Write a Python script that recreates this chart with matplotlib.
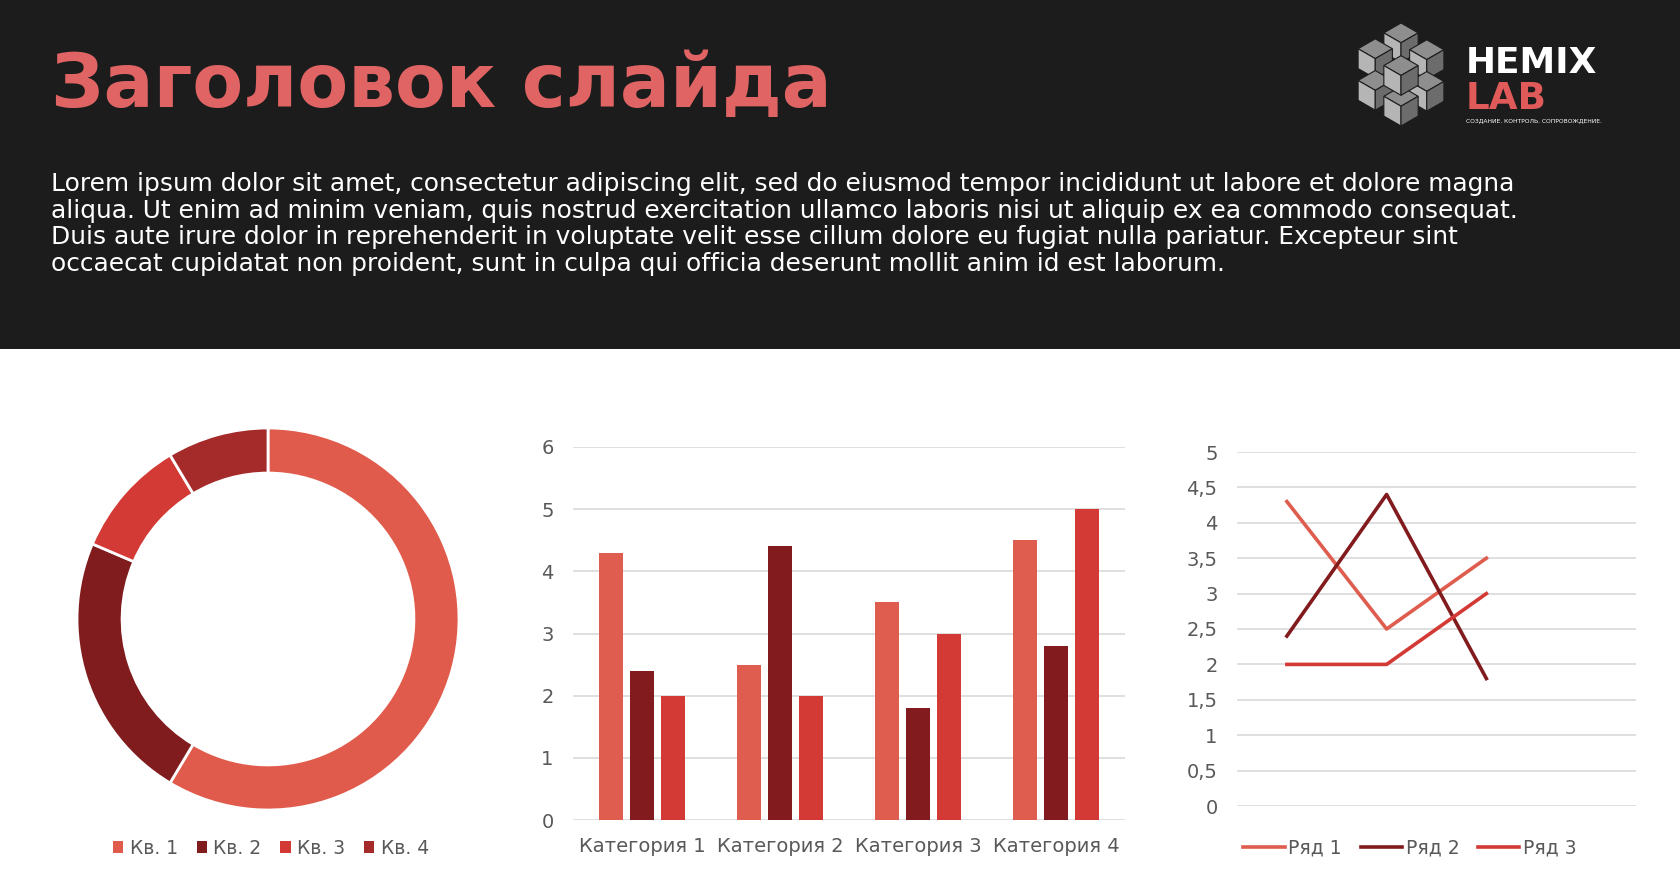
import matplotlib.pyplot as plt
from matplotlib.patches import Rectangle, Polygon
from matplotlib.lines import Line2D

W, H = 1680, 886

# data
title = "Заголовок слайда"
body_lines = [
    "Lorem ipsum dolor sit amet, consectetur adipiscing elit, sed do eiusmod tempor incididunt ut labore et dolore magna",
    "aliqua. Ut enim ad minim veniam, quis nostrud exercitation ullamco laboris nisi ut aliquip ex ea commodo consequat.",
    "Duis aute irure dolor in reprehenderit in voluptate velit esse cillum dolore eu fugiat nulla pariatur. Excepteur sint",
    "occaecat cupidatat non proident, sunt in culpa qui officia deserunt mollit anim id est laborum.",
]

quarters = ["Кв. 1", "Кв. 2", "Кв. 3", "Кв. 4"]
sales = [8.2, 3.2, 1.4, 1.2]

categories = ["Категория 1", "Категория 2", "Категория 3", "Категория 4"]
series_names = ["Ряд 1", "Ряд 2", "Ряд 3"]
series_1 = [4.3, 2.5, 3.5, 4.5]
series_2 = [2.4, 4.4, 1.8, 2.8]
series_3 = [2.0, 2.0, 3.0, 5.0]

line_x = [0, 1, 2]
line_1 = [4.3, 2.5, 3.5]
line_2 = [2.4, 4.4, 1.8]
line_3 = [2.0, 2.0, 3.0]

pie_colors = ["#E05B4B", "#811C1E", "#D43A35", "#A52B2B"]
bar_colors = ["#DE5D4E", "#821B1D", "#D33A35"]
header_bg = "#1C1C1C"
title_color = "#E06464"
tick_color = "#595959"
grid_color = "#D9D9D9"
font = "DejaVu Sans"


def box(x0, y0, x1, y1):
    # pixel box (top-left origin) -> figure fraction
    return [x0 / W, 1 - y1 / H, (x1 - x0) / W, (y1 - y0) / H]


fig = plt.figure(figsize=(W / 100, H / 100), dpi=100)
fig.patch.set_facecolor("white")

# dark header
fig.patches.append(Rectangle((0, 1 - 349 / H), 1, 349 / H, transform=fig.transFigure,
                             facecolor=header_bg, edgecolor="none", zorder=-5))

renderer = fig.canvas.get_renderer()


def fit_text(x, y, s, width, size, **kw):
    t = fig.text(x / W, 1 - y / H, s, fontsize=size, va="baseline", family=font, **kw)
    w = t.get_window_extent(renderer).width
    t.set_fontsize(size * width / w)
    return t


fit_text(51, 107, title, 783, 50, color=title_color, fontweight="bold")

body = fit_text(51, 191, body_lines[0], 1470, 16, color="white")
bsize = body.get_fontsize()
for i, line in enumerate(body_lines[1:], start=1):
    fig.text(51 / W, 1 - (191 + 26.5 * i) / H, line, fontsize=bsize, va="baseline",
             family=font, color="white")

# logo cubes
lax = fig.add_axes(box(1353, 22, 1449, 127))
lax.set_xlim(-2.25, 2.25)
lax.set_ylim(-2.6, 2.7)
lax.set_aspect("equal")
lax.axis("off")
a = 0.866
cubes = [(0, 1.65), (-1.3, 0.85), (1.3, 0.8), (-1.3, -0.75), (1.3, -0.8), (0, -1.55), (0, 0)]
for cx, cy in cubes:
    top = [(cx, cy), (cx + a, cy + 0.5), (cx, cy + 1), (cx - a, cy + 0.5)]
    left = [(cx, cy), (cx - a, cy + 0.5), (cx - a, cy - 0.5), (cx, cy - 1)]
    right = [(cx, cy), (cx + a, cy + 0.5), (cx + a, cy - 0.5), (cx, cy - 1)]
    lax.add_patch(Polygon(top, closed=True, facecolor="#8E8E8E", edgecolor=header_bg, lw=0.8))
    lax.add_patch(Polygon(left, closed=True, facecolor="#B5B5B5", edgecolor=header_bg, lw=0.8))
    lax.add_patch(Polygon(right, closed=True, facecolor="#6C6C6C", edgecolor=header_bg, lw=0.8))

fit_text(1466, 73, "HEMIX", 132, 30, color="white", fontweight="bold")
fit_text(1466, 109, "LAB", 81, 30, color="#E05A5A", fontweight="bold")
fit_text(1466, 122, "СОЗДАНИЕ. КОНТРОЛЬ. СОПРОВОЖДЕНИЕ.", 136, 5, color="white")

# donut
pax = fig.add_axes(box(77, 428, 459, 810))
pax.pie(sales, colors=pie_colors, startangle=90, counterclock=False, radius=1,
        wedgeprops=dict(width=0.236, edgecolor="white", linewidth=2))
pax.set_aspect("equal")
pax.set_xlim(-1.0, 1.0)
pax.set_ylim(-1.0, 1.0)
handles = [Rectangle((0, 0), 1, 1, facecolor=c) for c in pie_colors]
fig.legend(handles, quarters, loc="center", bbox_to_anchor=(271 / W, 1 - 848 / H),
           ncol=4, frameon=False, handlelength=0.55, handleheight=0.55, handletextpad=0.35,
           columnspacing=1.0, prop={"family": font, "size": 13.5}, labelcolor=tick_color)

# bar chart
bax = fig.add_axes(box(573, 447, 1125, 820))
xs = range(len(categories))
step, bw = 0.222, 0.172
for k, (vals, col) in enumerate(zip([series_1, series_2, series_3], bar_colors)):
    bax.bar([x + (k - 1) * step for x in xs], vals, width=bw, color=col, zorder=3)
bax.set_xlim(-0.5, 3.5)
bax.set_ylim(0, 6)
bax.set_yticks(range(7))
bax.set_xticks(list(xs))
bax.set_xticklabels(categories)
bax.grid(axis="y", color=grid_color, linewidth=1.2, zorder=0)
for s in bax.spines.values():
    s.set_visible(False)
bax.tick_params(length=0, labelcolor=tick_color, labelsize=14)
bax.tick_params(axis="y", pad=14)
bax.tick_params(axis="x", pad=12)
for lbl in bax.get_xticklabels() + bax.get_yticklabels():
    lbl.set_family(font)

# line chart
lnax = fig.add_axes(box(1237, 452, 1636, 806))
for vals, col, name in zip([line_1, line_2, line_3], bar_colors, series_names):
    lnax.plot(line_x, vals, color=col, linewidth=2.6, label=name, zorder=3)
lnax.set_xlim(-0.5, 3.5)
lnax.set_ylim(0, 5)
yt = [i * 0.5 for i in range(11)]
lnax.set_yticks(yt)
lnax.set_yticklabels([f"{v:g}".replace(".", ",") for v in yt])
lnax.set_xticks([])
lnax.grid(axis="y", color=grid_color, linewidth=1.2, zorder=0)
for s in lnax.spines.values():
    s.set_visible(False)
lnax.tick_params(length=0, labelcolor=tick_color, labelsize=14, pad=14)
for lbl in lnax.get_yticklabels():
    lbl.set_family(font)
lh = [Line2D([0], [0], color=c, linewidth=2.6) for c in bar_colors]
fig.legend(lh, series_names, loc="center", bbox_to_anchor=(1410 / W, 1 - 848 / H),
           ncol=3, frameon=False, handlelength=2.2, handletextpad=0.2, columnspacing=1.0,
           prop={"family": font, "size": 13.5}, labelcolor=tick_color)

fig.savefig("out.png", dpi=100, facecolor="white")
